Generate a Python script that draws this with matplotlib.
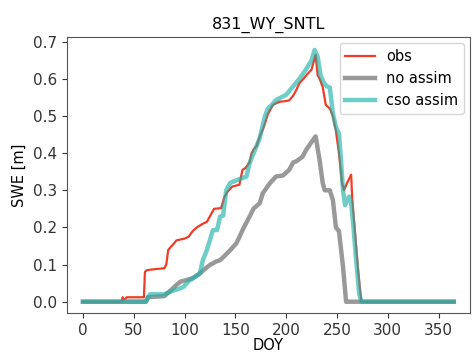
import matplotlib
matplotlib.use("Agg")
import matplotlib.pyplot as plt

title = "831_WY_SNTL"
xlabel = "DOY"
ylabel = "SWE [m]"
labels = ["obs", "no assim", "cso assim"]

obs_doy = [0, 38, 39, 41, 43, 60, 61, 63, 72, 80, 82, 84, 89, 92, 100, 104, 108, 112, 118, 122,
           126, 129, 136, 139, 142, 147, 154, 157, 160, 164, 166, 168, 171, 174, 178, 182, 187,
           193, 199, 203, 207, 210, 213, 217, 220, 225, 227, 229, 231, 233, 236, 239, 243, 246,
           249, 252, 255, 257, 260, 264, 265, 268, 271, 274, 365]
obs_swe = [0, 0, 0.012, 0.005, 0.012, 0.012, 0.08, 0.085, 0.088, 0.09, 0.1, 0.14, 0.155, 0.165,
           0.17, 0.175, 0.19, 0.2, 0.21, 0.215, 0.235, 0.25, 0.252, 0.28, 0.295, 0.31, 0.315,
           0.355, 0.36, 0.375, 0.4, 0.41, 0.42, 0.445, 0.47, 0.505, 0.53, 0.538, 0.54, 0.542,
           0.555, 0.57, 0.588, 0.6, 0.61, 0.625, 0.645, 0.665, 0.61, 0.6, 0.578, 0.53, 0.52,
           0.5, 0.46, 0.4, 0.32, 0.3, 0.32, 0.342, 0.28, 0.18, 0.08, 0, 0]

noassim_doy = [0, 62, 64, 80, 85, 92, 96, 104, 108, 115, 120, 125, 131, 135, 140, 145, 151, 155,
               158, 164, 168, 174, 177, 184, 190, 197, 203, 207, 210, 216, 220, 225, 229, 231,
               233, 236, 238, 243, 246, 249, 252, 256, 259, 365]
noassim_swe = [0, 0, 0.012, 0.015, 0.027, 0.045, 0.054, 0.06, 0.063, 0.076, 0.088, 0.099, 0.108,
               0.112, 0.125, 0.139, 0.157, 0.18, 0.198, 0.229, 0.251, 0.265, 0.292, 0.319, 0.337,
               0.34, 0.355, 0.375, 0.378, 0.39, 0.41, 0.43, 0.445, 0.413, 0.38, 0.32, 0.3, 0.3,
               0.274, 0.2, 0.19, 0.094, 0, 0]

cso_doy = [0, 62, 66, 80, 89, 95, 99, 105, 112, 115, 118, 122, 125, 128, 132, 135, 138, 141, 145,
           154, 161, 164, 168, 171, 174, 179, 182, 186, 190, 195, 200, 207, 213, 220, 225, 228,
           231, 234, 237, 240, 243, 246, 249, 252, 254, 256, 258, 262, 264, 266, 269, 272, 274, 365]
cso_swe = [0, 0, 0.02, 0.02, 0.03, 0.035, 0.04, 0.058, 0.07, 0.076, 0.112, 0.139, 0.166, 0.193,
           0.193, 0.229, 0.232, 0.3, 0.32, 0.33, 0.337, 0.373, 0.4, 0.42, 0.44, 0.498, 0.52, 0.53,
           0.543, 0.55, 0.557, 0.58, 0.6, 0.627, 0.65, 0.678, 0.66, 0.608, 0.59, 0.58, 0.577,
           0.507, 0.47, 0.453, 0.38, 0.3, 0.26, 0.283, 0.265, 0.21, 0.11, 0.02, 0, 0]

fig = plt.figure(figsize=(4.72, 3.55), dpi=100)
ax = fig.add_axes([0.1413, 0.1183, 0.8545, 0.7775])

ax.plot(obs_doy, obs_swe, color="#f03c28", lw=1.6, label=labels[0])
ax.plot(noassim_doy, noassim_swe, color="gray", alpha=0.8, lw=3.2, label=labels[1])
ax.plot(cso_doy, cso_swe, color="lightseagreen", alpha=0.65, lw=3.2, label=labels[2])

ax.set_xlim(-16, 381)
ax.set_ylim(-0.0304, 0.7127)
ax.set_xticks([0, 50, 100, 150, 200, 250, 300, 350])
ax.set_yticks([0.0, 0.1, 0.2, 0.3, 0.4, 0.5, 0.6, 0.7])
ax.tick_params(labelsize=11, colors="#333333")
for s in ax.spines.values():
    s.set_color("#555555")
ax.set_title(title, fontsize=11.5, pad=6)
ax.set_xlabel(xlabel, fontsize=10.5, labelpad=0)
ax.set_ylabel(ylabel, fontsize=10.5, labelpad=4)
ax.legend(loc="upper right", fontsize=10.5, handlelength=2.0, borderaxespad=0.4)

fig.savefig("out.png", dpi=100)
